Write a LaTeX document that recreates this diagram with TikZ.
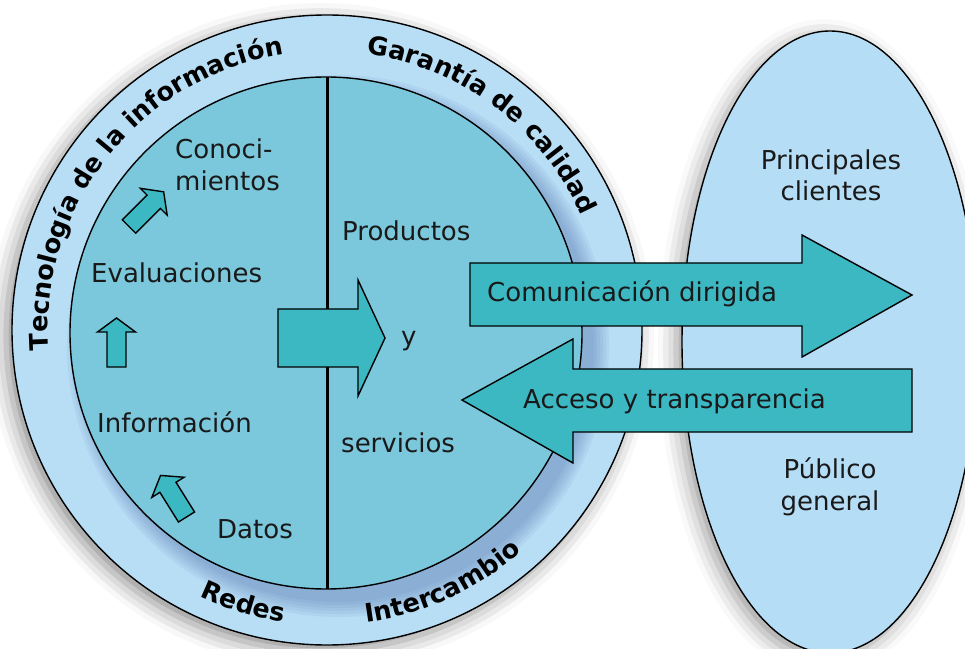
\documentclass[tikz,border=0pt]{standalone}
\usepackage{fontspec}
\setmainfont{DejaVu Sans}
\usetikzlibrary{shadows.blur,decorations.text,calc}
\definecolor{ringblue}{HTML}{B8DEF6}
\definecolor{coreblue}{HTML}{7BC7DB}
\definecolor{arrowteal}{HTML}{3CB8C3}
\definecolor{ellblue}{HTML}{B5DDF5}
\definecolor{shadeblue}{HTML}{4A68A8}
\begin{document}
\begin{tikzpicture}[x=1pt,y=1pt,
  outline/.style={draw=black, line width=1.4pt, line join=miter},
  lbl/.style={font=\fontsize{26}{31}\selectfont, inner sep=0pt, text=black!90},
  ringtext/.style={decorate, decoration={text along path, text align=center,
     text={|\bfseries\fontsize{25.5}{30}\selectfont|#1}}},
  smallarr/.pic={\path[outline, fill=arrowteal] (0,-9.5) -- (35,-9.5) -- (35,-19) -- (49,0) -- (35,19) -- (35,9.5) -- (0,9.5) -- cycle;}
]
\useasboundingbox (0,0) rectangle (965,648);
\coordinate (C) at (327,318);
\coordinate (I) at (326,315);
% outer ring
\path[outline, fill=ringblue, blur shadow={shadow xshift=-6pt, shadow yshift=-6pt, shadow blur radius=18pt, shadow opacity=45}] (C) circle[radius=315];
% bluish shadow of the core on the ring
\begin{scope}
  \clip (C) circle[radius=314];
  \foreach \r in {256,259,...,271} {
    \fill[shadeblue, opacity=0.08] ($(I)+(12,-13)$) circle[radius=\r];
  }
\end{scope}
% inner core
\path[outline, fill=coreblue] (I) circle[radius=256];
\coordinate (ctop) at (327,571);
\coordinate (cbot) at (327,59);
\draw[line width=3pt] (ctop) -- (cbot);
% ring texts
\path[ringtext={Tecnología de la información}] ($(C)+(201.5:279)$) arc[start angle=201.5, end angle=81.5, radius=279];
\path[ringtext={Garantía de calidad}] ($(C)+(98:279)$) arc[start angle=98, end angle=8, radius=279];
\path[ringtext={Redes}] ($(C)+(223:295)$) arc[start angle=223, end angle=283, radius=295];
\path[ringtext={Intercambio}] ($(C)+(259.5:295)$) arc[start angle=259.5, end angle=329.5, radius=295];
% central arrow
\path[outline, fill=arrowteal] (278,339) -- (358,339) -- (358,368) -- (385,310) -- (358,252) -- (358,281) -- (278,281) -- cycle;
% small arrows
\pic[rotate=45] at (129,421.5) {smallarr};
\pic[rotate=90] at (116.5,281) {smallarr};
\pic[rotate=122] at (186.5,131) {smallarr};
% left labels
\node[lbl, anchor=base west] (con1) at (175,489) {Conoci-};
\node[lbl, anchor=base west] (con2) at (175,457) {mientos};
\node[lbl, anchor=base west] (eva) at (91,365) {Evaluaciones};
\node[lbl, anchor=base west] (inf) at (97,215) {Información};
\node[lbl, anchor=base west] (dat) at (217,110) {Datos};
\node[lbl, anchor=base west] (pro) at (342,407) {Productos};
\node[lbl, anchor=base west] (yy) at (401,302) {y};
\node[lbl, anchor=base west] (ser) at (341,196) {servicios};
% ellipse
\path[outline, fill=ellblue, blur shadow={shadow xshift=-6pt, shadow yshift=-6pt, shadow blur radius=18pt, shadow opacity=40}] (830,306) ellipse[x radius=148, y radius=311];
\node[lbl, anchor=base] (pc1) at (831,478) {Principales};
\node[lbl, anchor=base] (pc2) at (831,447) {clientes};
\node[lbl, anchor=base] (pg1) at (830,170) {Público};
\node[lbl, anchor=base] (pg2) at (830,138) {general};
% big arrows
\path[outline, fill=arrowteal] (470,385) -- (802,385) -- (802,413) -- (912,353) -- (802,291) -- (802,322) -- (470,322) -- cycle;
\path[outline, fill=arrowteal] (912,279) -- (573,279) -- (573,309) -- (462,248) -- (573,185) -- (573,216) -- (912,216) -- cycle;
\node[lbl, anchor=base west] (com) at (487,346) {Comunicación dirigida};
\node[lbl, anchor=base west] (acc) at (523,240) {Acceso y transparencia};
\end{tikzpicture}
\end{document}
